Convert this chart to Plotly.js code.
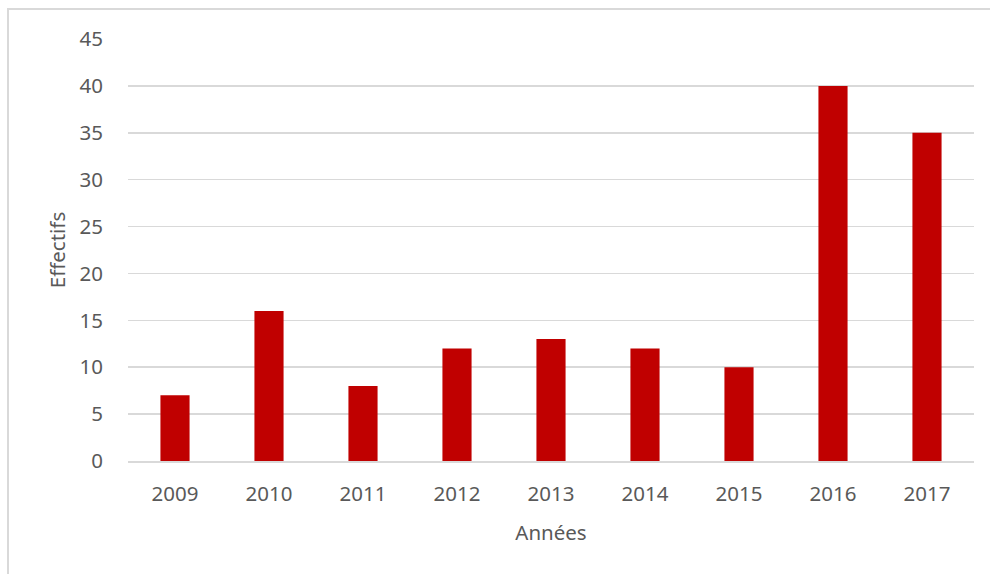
<!DOCTYPE html>
<html>
<head>
<meta charset="utf-8">
<script src="https://cdn.plot.ly/plotly-3.0.1.min.js"></script>
<style>
html,body{margin:0;padding:0;background:#fff;}
#chart{width:990px;height:574px;}
</style>
</head>
<body>
<div id="chart"></div>
<script>
const years = ['2009','2010','2011','2012','2013','2014','2015','2016','2017'];
const effectifs = [7, 16, 8, 12, 13, 12, 10, 40, 35];
const yTicks = [0, 5, 10, 15, 20, 25, 30, 35, 40, 45];

const font = {family: 'Noto Sans, Open Sans, sans-serif', size: 20.5, color: '#595959'};

const trace = {
  type: 'bar',
  x: years,
  y: effectifs,
  marker: {color: '#c00000'},
  hoverinfo: 'skip'
};

const layout = {
  width: 990, height: 574,
  margin: {l: 128, r: 16, t: 39, b: 113},
  paper_bgcolor: '#fff', plot_bgcolor: '#fff',
  bargap: 0.69,
  showlegend: false,
  font: font,
  xaxis: {
    type: 'category',
    showgrid: false,
    showline: true, linecolor: '#d9d9d9', linewidth: 1.5,
    ticks: 'outside', ticklen: 14, tickcolor: 'rgba(0,0,0,0)',
    tickfont: font,
    title: {text: 'Années', font: font, standoff: 19},
    zeroline: false
  },
  yaxis: {
    range: [0, 45],
    tickvals: yTicks,
    showgrid: true, gridcolor: '#d9d9d9', gridwidth: 1.5,
    zeroline: false, showline: false,
    ticks: 'outside', ticklen: 20, tickcolor: 'rgba(0,0,0,0)',
    tickfont: font,
    title: {text: 'Effectifs', font: font, standoff: 8}
  },
  shapes: [{
    type: 'rect', xref: 'paper', yref: 'paper',
    x0: -120/846, x1: 1.05, y0: -0.3, y1: 1 + 30/422,
    line: {color: '#d9d9d9', width: 2}, fillcolor: 'rgba(0,0,0,0)', layer: 'below'
  }]
};

Plotly.newPlot('chart', [trace], layout, {displayModeBar: false, staticPlot: true});
</script>
</body>
</html>
